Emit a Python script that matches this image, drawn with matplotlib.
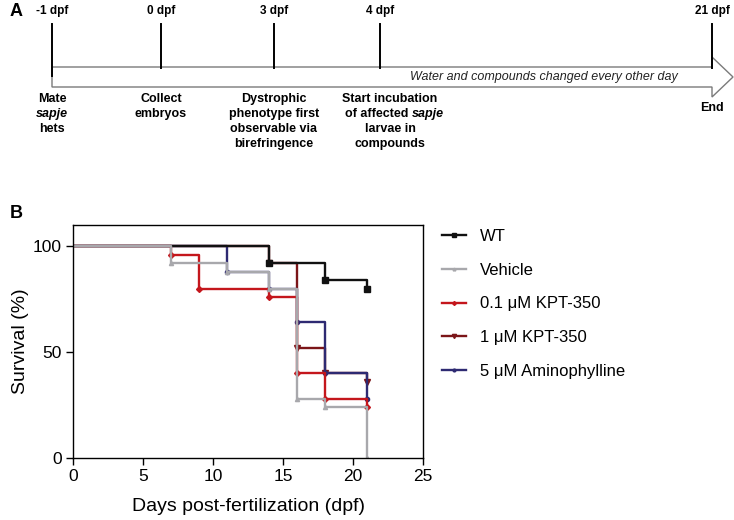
import numpy as np
import matplotlib
matplotlib.use("Agg")
import matplotlib.pyplot as plt
from matplotlib.patches import Polygon

plt.rcParams['font.family'] = ['Liberation Sans', 'DejaVu Sans']

# ---- panel A: timeline events ----
ev_days = ["-1 dpf", "0 dpf", "3 dpf", "4 dpf", "21 dpf"]
ev_pos = [52, 161, 274, 380, 712]   # schematic positions (not to scale)
note_shift = [0, 0, 0, 10, 0]
ev_notes = [
    [("Mate", "normal"), ("sapje", "italic"), ("hets", "normal")],
    [("Collect", "normal"), ("embryos", "normal")],
    [("Dystrophic", "normal"), ("phenotype first", "normal"),
     ("observable via", "normal"), ("birefringence", "normal")],
    [("Start incubation", "normal"), ("of affected |sapje", "mixed"),
     ("larvae in", "normal"), ("compounds", "normal")],
    [("End", "normal")],
]
arrow_text = "Water and compounds changed every other day"

# ---- panel B: survival curves ----
groups = ["WT", "Vehicle", "0.1 \u03bcM KPT-350", "1 \u03bcM KPT-350", "5 \u03bcM Aminophylline"]
t_wt = [0, 14, 18, 21]
s_wt = [100, 92, 84, 80]
t_veh = [0, 7, 11, 14, 16, 18, 21]
s_veh = [100, 92, 88, 80, 28, 24, 0]
t_k01 = [0, 7, 9, 14, 16, 18, 21]
s_k01 = [100, 96, 80, 76, 40, 28, 24]
t_k1 = [0, 14, 16, 18, 21]
s_k1 = [100, 92, 52, 40, 36]
t_ami = [0, 11, 14, 16, 18, 21]
s_ami = [100, 88, 80, 64, 40, 28]

W, H = 734, 520
fig = plt.figure(figsize=(W / 100, H / 100), dpi=100)

# timeline drawn in pixel space
axa = fig.add_axes([0, 0, 1, 1])
axa.set_xlim(0, W)
axa.set_ylim(H, 0)
axa.axis('off')
axa.text(10, 12, "A", fontsize=13, fontweight='bold', va='center', ha='left')

x0, x1, tip = ev_pos[0], ev_pos[-1], 733
body_top, body_bot = 67, 87
arrow = Polygon([[x0, body_top], [x1, body_top], [x1, 57], [tip, 77],
                 [x1, 97], [x1, body_bot], [x0, body_bot]],
                closed=True, fill=False, edgecolor='#7a7a7a', lw=1.0)
axa.add_patch(arrow)
axa.text(544, 77, arrow_text, style='italic', fontsize=9,
         ha='center', va='center', color='#222222')

for lab, xp, dx, notes in zip(ev_days, ev_pos, note_shift, ev_notes):
    axa.plot([xp, xp], [24, 68 if xp != x0 else 76], color='black', lw=1.4)
    axa.text(xp, 11, lab, fontsize=8.5, fontweight='bold', ha='center', va='center')
    y = 99 if lab != "21 dpf" else 108
    xc = xp + dx
    for line, kind in notes:
        if kind == "mixed":
            a, b = line.split("|")
            axa.text(xc + 22, y, a, fontsize=9, fontweight='bold', ha='right', va='center')
            axa.text(xc + 22, y, b, fontsize=9, fontweight='bold', style='italic',
                     ha='left', va='center')
        else:
            axa.text(xc, y, line, fontsize=9, fontweight='bold', style=kind,
                     ha='center', va='center')
        y += 15

axa.text(10, 213, "B", fontsize=13, fontweight='bold', va='center', ha='left')

# survival plot (drawing order matters for overlaps)
ax = fig.add_axes([73 / W, 1 - 458 / H, 350 / W, 233 / H])
series = {
    groups[3]: (t_k1, s_k1, '#7b1518', 'v', 4),
    groups[4]: (t_ami, s_ami, '#2e2a72', 'o', 3),
    groups[2]: (t_k01, s_k01, '#c4161c', 'D', 3),
    groups[0]: (t_wt, s_wt, '#111111', 's', 4),
    groups[1]: (t_veh, s_veh, '#a8a8ac', '^', 3),
}
handles = {}
for name, (t, s, c, m, ms) in series.items():
    ax.step(t, s, where='post', color=c, lw=1.7)
    ax.plot(t[1:], s[1:], ls='none', marker=m, ms=ms, color=c)
    handles[name], = ax.plot([], [], color=c, lw=1.7, marker=m, ms=ms - 1)

ax.set_xlim(0, 25)
ax.set_ylim(0, 110)
ax.set_xticks(np.arange(0, 26, 5))
ax.set_yticks([0, 50, 100])
ax.tick_params(direction='out', length=5, width=1, labelsize=12.5, pad=3)
for sp in ax.spines.values():
    sp.set_linewidth(1)
ax.set_xlabel("Days post-fertilization (dpf)", fontsize=14, labelpad=10)
ax.set_ylabel("Survival (%)", fontsize=14, labelpad=3)

fig.legend([handles[g] for g in groups], groups, loc='upper left',
           bbox_to_anchor=(442 / W, 1 - 229 / H), frameon=False, fontsize=12,
           handlelength=1.45, handletextpad=0.85, labelspacing=1.12,
           borderpad=0, borderaxespad=0)

fig.savefig("out.png", dpi=100)
